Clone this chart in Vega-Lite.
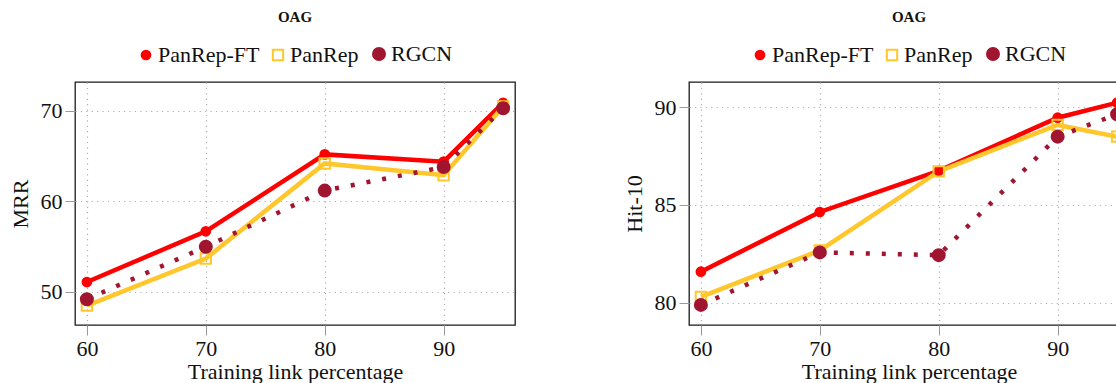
{
  "$schema": "https://vega.github.io/schema/vega-lite/v6.json",
  "background": "white",
  "padding": {"left": 8, "top": 9, "right": 0, "bottom": 0},
  "datasets": {
    "mrr": [
      {"pct": 60, "value": 51.1, "method": "PanRep-FT"},
      {"pct": 70, "value": 56.7, "method": "PanRep-FT"},
      {"pct": 80, "value": 65.2, "method": "PanRep-FT"},
      {"pct": 90, "value": 64.4, "method": "PanRep-FT"},
      {"pct": 95, "value": 70.9, "method": "PanRep-FT"},
      {"pct": 60, "value": 48.5, "method": "PanRep"},
      {"pct": 70, "value": 53.7, "method": "PanRep"},
      {"pct": 80, "value": 64.2, "method": "PanRep"},
      {"pct": 90, "value": 62.9, "method": "PanRep"},
      {"pct": 95, "value": 70.5, "method": "PanRep"},
      {"pct": 60, "value": 49.2, "method": "RGCN"},
      {"pct": 70, "value": 55.0, "method": "RGCN"},
      {"pct": 80, "value": 61.2, "method": "RGCN"},
      {"pct": 90, "value": 63.8, "method": "RGCN"},
      {"pct": 95, "value": 70.3, "method": "RGCN"}
    ],
    "hit": [
      {"pct": 60, "value": 81.58, "method": "PanRep-FT"},
      {"pct": 70, "value": 84.64, "method": "PanRep-FT"},
      {"pct": 80, "value": 86.75, "method": "PanRep-FT"},
      {"pct": 90, "value": 89.47, "method": "PanRep-FT"},
      {"pct": 95, "value": 90.24, "method": "PanRep-FT"},
      {"pct": 60, "value": 80.29, "method": "PanRep"},
      {"pct": 70, "value": 82.67, "method": "PanRep"},
      {"pct": 80, "value": 86.72, "method": "PanRep"},
      {"pct": 90, "value": 89.1, "method": "PanRep"},
      {"pct": 95, "value": 88.5, "method": "PanRep"},
      {"pct": 60, "value": 79.88, "method": "RGCN"},
      {"pct": 70, "value": 82.57, "method": "RGCN"},
      {"pct": 80, "value": 82.43, "method": "RGCN"},
      {"pct": 90, "value": 88.5, "method": "RGCN"},
      {"pct": 95, "value": 89.65, "method": "RGCN"}
    ]
  },
  "config": {
    "font": "Liberation Serif",
    "view": {"stroke": "#1a1a1a", "strokeWidth": 1.3},
    "axis": {
      "labelFont": "Liberation Serif",
      "labelFontSize": 22,
      "labelColor": "#111111",
      "titleFont": "Liberation Serif",
      "titleFontSize": 22,
      "titleFontWeight": "normal",
      "titleColor": "#111111",
      "domain": false,
      "tickColor": "#999999",
      "tickSize": 10,
      "tickWidth": 1,
      "grid": true,
      "gridDash": [1.2, 4.2],
      "gridColor": "#b0b0b0",
      "gridWidth": 1.2,
      "labelPadding": 3
    },
    "legend": {"labelFont": "Liberation Serif", "labelFontSize": 22, "labelColor": "#111111"},
    "title": {"font": "Liberation Serif", "fontSize": 15, "fontWeight": "bold", "color": "#111111", "offset": 18, "anchor": "middle"}
  },
  "resolve": {
    "scale": {"color": "independent", "fill": "independent", "stroke": "independent", "strokeWidth": "independent", "shape": "independent", "size": "independent"},
    "legend": {"color": "independent"}
  },
  "spacing": 105,
  "hconcat": [
    {
      "width": 440,
      "height": 243,
      "title": {"text": "OAG"},
      "data": {"name": "mrr"},
      "encoding": {
        "x": {"field": "pct", "type": "quantitative", "scale": {"domain": [59, 96], "nice": false, "zero": false}, "axis": {"values": [60, 70, 80, 90], "title": "Training link percentage", "titlePadding": 2}},
        "y": {"field": "value", "type": "quantitative", "scale": {"domain": [46.35, 73.2], "nice": false, "zero": false}, "axis": {"values": [50, 60, 70], "title": "MRR", "titlePadding": 8}}
      },
      "layer": [
        {
          "transform": [{"filter": "datum.method !== 'RGCN'"}],
          "mark": {"type": "line", "strokeWidth": 4.5, "strokeCap": "butt"},
          "encoding": {
            "color": {
              "field": "method", "type": "nominal",
              "scale": {"domain": ["PanRep-FT", "PanRep", "RGCN"], "range": ["#FF0000", "#FFC72C", "#A0152F"]},
              "legend": {"orient": "none", "direction": "horizontal", "legendX": 60, "legendY": -39, "title": null, "symbolSize": 170, "labelOffset": 1, "columnPadding": 7}
            }
          }
        },
        {
          "transform": [{"filter": "datum.method === 'RGCN'"}],
          "mark": {"type": "line", "strokeWidth": 4.5, "strokeCap": "butt", "strokeDash": [4, 12]},
          "encoding": {
            "color": {"field": "method", "type": "nominal", "scale": {"domain": ["PanRep-FT", "PanRep", "RGCN"], "range": ["#FF0000", "#FFC72C", "#A0152F"]}}
          }
        },
        {
          "mark": {"type": "point", "opacity": 1, "filled": true},
          "encoding": {
            "shape": {"field": "method", "type": "nominal", "scale": {"domain": ["PanRep-FT", "PanRep", "RGCN"], "range": ["circle", "square", "circle"]}, "legend": null},
            "fill": {"field": "method", "type": "nominal", "scale": {"domain": ["PanRep-FT", "PanRep", "RGCN"], "range": ["#FF0000", "rgba(0,0,0,0)", "#A0152F"]}, "legend": null},
            "stroke": {"field": "method", "type": "nominal", "scale": {"domain": ["PanRep-FT", "PanRep", "RGCN"], "range": ["#FF0000", "#FFC72C", "#A0152F"]}, "legend": null},
            "strokeWidth": {"field": "method", "type": "ordinal", "scale": {"domain": ["PanRep-FT", "PanRep", "RGCN"], "range": [0, 4, 0]}, "legend": null},
            "size": {"field": "method", "type": "ordinal", "scale": {"domain": ["PanRep-FT", "PanRep", "RGCN"], "range": [115, 100, 135]}, "legend": null}
          }
        }
      ]
    },
    {
      "width": 440,
      "height": 243,
      "title": {"text": "OAG"},
      "data": {"name": "hit"},
      "encoding": {
        "x": {"field": "pct", "type": "quantitative", "scale": {"domain": [59, 96], "nice": false, "zero": false}, "axis": {"values": [60, 70, 80, 90], "title": "Training link percentage", "titlePadding": 2}},
        "y": {"field": "value", "type": "quantitative", "scale": {"domain": [78.85, 91.3], "nice": false, "zero": false}, "axis": {"values": [80, 85, 90], "title": "Hit-10", "titlePadding": 8}}
      },
      "layer": [
        {
          "transform": [{"filter": "datum.method !== 'RGCN'"}],
          "mark": {"type": "line", "strokeWidth": 4.5, "strokeCap": "butt"},
          "encoding": {
            "color": {
              "field": "method", "type": "nominal",
              "scale": {"domain": ["PanRep-FT", "PanRep", "RGCN"], "range": ["#FF0000", "#FFC72C", "#A0152F"]},
              "legend": {"orient": "none", "direction": "horizontal", "legendX": 60, "legendY": -39, "title": null, "symbolSize": 170, "labelOffset": 1, "columnPadding": 7}
            }
          }
        },
        {
          "transform": [{"filter": "datum.method === 'RGCN'"}],
          "mark": {"type": "line", "strokeWidth": 4.5, "strokeCap": "butt", "strokeDash": [4, 12]},
          "encoding": {
            "color": {"field": "method", "type": "nominal", "scale": {"domain": ["PanRep-FT", "PanRep", "RGCN"], "range": ["#FF0000", "#FFC72C", "#A0152F"]}}
          }
        },
        {
          "mark": {"type": "point", "opacity": 1, "filled": true},
          "encoding": {
            "shape": {"field": "method", "type": "nominal", "scale": {"domain": ["PanRep-FT", "PanRep", "RGCN"], "range": ["circle", "square", "circle"]}, "legend": null},
            "fill": {"field": "method", "type": "nominal", "scale": {"domain": ["PanRep-FT", "PanRep", "RGCN"], "range": ["#FF0000", "rgba(0,0,0,0)", "#A0152F"]}, "legend": null},
            "stroke": {"field": "method", "type": "nominal", "scale": {"domain": ["PanRep-FT", "PanRep", "RGCN"], "range": ["#FF0000", "#FFC72C", "#A0152F"]}, "legend": null},
            "strokeWidth": {"field": "method", "type": "ordinal", "scale": {"domain": ["PanRep-FT", "PanRep", "RGCN"], "range": [0, 4, 0]}, "legend": null},
            "size": {"field": "method", "type": "ordinal", "scale": {"domain": ["PanRep-FT", "PanRep", "RGCN"], "range": [115, 100, 135]}, "legend": null}
          }
        }
      ]
    }
  ]
}
